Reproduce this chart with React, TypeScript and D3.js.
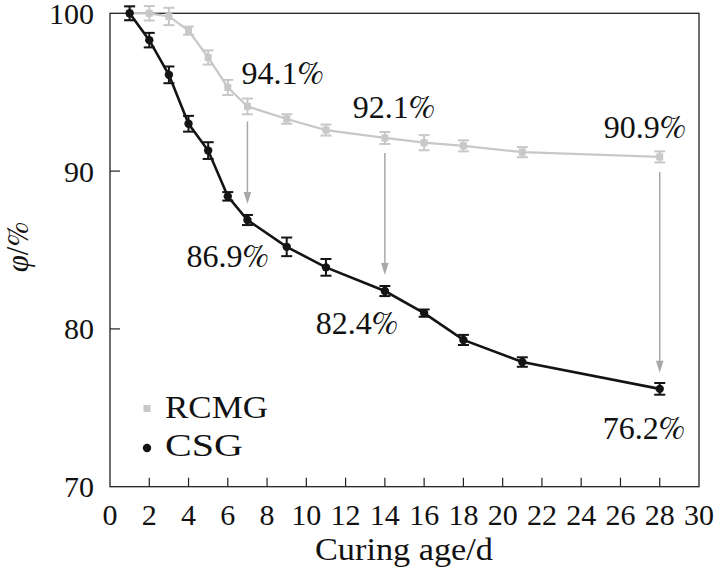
import React from "react";
import * as d3 from "d3";

const days = [1, 2, 3, 4, 5, 6, 7, 9, 11, 14, 16, 18, 21, 28];
const rcmg = [100, 100.0, 99.8, 98.9, 97.2, 95.3, 94.1, 93.3, 92.6, 92.1, 91.8, 91.6, 91.2, 90.9];
const rcmgErr = [0.44, 0.46, 0.55, 0.26, 0.45, 0.48, 0.5, 0.3, 0.35, 0.38, 0.48, 0.35, 0.32, 0.35];
const csg = [100, 98.3, 96.1, 93.0, 91.3, 88.4, 86.9, 85.2, 83.9, 82.4, 81.0, 79.3, 77.9, 76.2];
const csgErr = [0.44, 0.46, 0.53, 0.5, 0.53, 0.27, 0.32, 0.59, 0.53, 0.32, 0.23, 0.32, 0.3, 0.37];

const xTicks = [0, 2, 4, 6, 8, 10, 12, 14, 16, 18, 20, 22, 24, 26, 28, 30];
const yTicks = [70, 80, 90, 100];
const arrowDays = [7, 14, 28];

const W = 716;
const H = 576;
const M = { left: 110, right: 699, top: 13.3, bottom: 486.7 };
const FONT = '"Liberation Serif"';
const PCT_FONT = '"FreeSerif"';

// label offsets relative to the points (layout only)
const topLabelOff: Record<number, [number, number]> = { 7: [-6, -22], 14: [-32, -20], 28: [-56, -19] };
const botLabelOff: Record<number, [number, number]> = { 7: [-61, 47], 14: [-69, 43], 28: [-57, 50] };

export default function App() {
  const x = d3.scaleLinear().domain([0, 30]).range([M.left, M.right]);
  const y = d3.scaleLinear().domain([70, 100]).range([M.bottom, M.top]);
  const line = d3
    .line<number>()
    .x((_, i) => x(days[i]))
    .y((v) => y(v));

  const gray = "#c8c8c8";
  const black = "#141414";
  const arrowCol = "#a8a8a8";
  const cap = 5.5;
  const ts: React.CSSProperties = { fontFamily: FONT };
  const ps: React.CSSProperties = { fontFamily: PCT_FONT };

  const errBars = (vals: number[], errs: number[], color: string, w: number) =>
    vals.map((v, i) => {
      const cx = x(days[i]);
      const y1 = y(v + errs[i]);
      const y2 = y(v - errs[i]);
      return (
        <g key={i} stroke={color} strokeWidth={w}>
          <line x1={cx} x2={cx} y1={y1} y2={y2} />
          <line x1={cx - cap} x2={cx + cap} y1={y1} y2={y1} />
          <line x1={cx - cap} x2={cx + cap} y1={y2} y2={y2} />
        </g>
      );
    });

  const pctLabel = (key: string, px: number, py: number, v: number) => (
    <text key={key} x={px} y={py} fontSize={32} fill="#111" style={ts}>
      {v.toFixed(1)}
      <tspan style={ps} fontSize={33}>%</tspan>
    </text>
  );

  return (
    <svg
      width={W}
      height={H}
      viewBox={`0 0 ${W} ${H}`}
      style={{ position: "absolute", left: 0, top: 0, background: "#fff" }}
    >
      <rect x={0} y={0} width={W} height={H} fill="#fff" />
      {/* frame */}
      <rect
        x={M.left}
        y={M.top}
        width={M.right - M.left}
        height={M.bottom - M.top}
        fill="none"
        stroke="#222"
        strokeWidth={1.3}
      />
      {/* ticks */}
      {xTicks
        .filter((t) => t > 0 && t < 30)
        .map((t) => (
          <line key={t} x1={x(t)} x2={x(t)} y1={M.bottom} y2={M.bottom - 9} stroke="#222" strokeWidth={1.2} />
        ))}
      {yTicks
        .filter((t) => t > 70 && t < 100)
        .map((t) => (
          <line key={t} x1={M.left} x2={M.left + 10} y1={y(t)} y2={y(t)} stroke="#222" strokeWidth={1.2} />
        ))}
      {/* tick labels */}
      {xTicks.map((t) => (
        <text key={t} x={x(t)} y={525} fontSize={30} textAnchor="middle" fill="#111" style={ts}>
          {t}
        </text>
      ))}
      {yTicks.map((t) => (
        <text key={t} x={94} y={y(t) + 10.5} fontSize={30} textAnchor="end" fill="#111" style={ts}>
          {t}
        </text>
      ))}
      {/* axis titles */}
      <text x={404} y={560} fontSize={31} textAnchor="middle" fill="#111" style={ts} textLength={178} lengthAdjust="spacingAndGlyphs">
        Curing age/d
      </text>
      <text transform="translate(28,247) rotate(-90)" fontSize={31} textAnchor="middle" fill="#111" style={ts}>
        <tspan fontStyle="italic">φ</tspan>
        <tspan>/</tspan>
        <tspan style={ps}>%</tspan>
      </text>

      {/* RCMG series */}
      <path d={line(rcmg) || ""} fill="none" stroke={gray} strokeWidth={2.2} />
      {errBars(rcmg, rcmgErr, gray, 2)}
      {rcmg.map((v, i) => (
        <rect key={i} x={x(days[i]) - 3.5} y={y(v) - 3.5} width={7} height={7} fill={gray} />
      ))}

      {/* CSG series */}
      <path d={line(csg) || ""} fill="none" stroke={black} strokeWidth={2.6} />
      {errBars(csg, csgErr, black, 2)}
      {csg.map((v, i) => (
        <circle key={i} cx={x(days[i])} cy={y(v)} r={4.2} fill={black} />
      ))}

      {/* arrows + labels */}
      {arrowDays.map((d) => {
        const i = days.indexOf(d);
        const cx = x(d);
        const yTop = y(rcmg[i]);
        const yBot = y(csg[i]);
        const start = yTop + 15;
        const tip = yBot - 16;
        const base = tip - 12;
        const to = topLabelOff[d];
        const bo = botLabelOff[d];
        return (
          <g key={d}>
            <line x1={cx} x2={cx} y1={start} y2={base + 1} stroke={arrowCol} strokeWidth={1.5} />
            <path d={`M${cx - 3.8},${base} L${cx + 3.8},${base} L${cx},${tip} Z`} fill={arrowCol} />
            {pctLabel("t", cx + to[0], yTop + to[1], rcmg[i])}
            {pctLabel("b", cx + bo[0], yBot + bo[1], csg[i])}
          </g>
        );
      })}

      {/* legend */}
      <rect x={143.5} y={405} width={7} height={7} fill={gray} />
      <text x={165} y={418} fontSize={32} fill="#111" style={ts} textLength={103} lengthAdjust="spacingAndGlyphs">
        RCMG
      </text>
      <circle cx={147} cy={448} r={4.2} fill={black} />
      <text x={165} y={456} fontSize={32} fill="#111" style={ts} textLength={78} lengthAdjust="spacingAndGlyphs">
        CSG
      </text>
    </svg>
  );
}
